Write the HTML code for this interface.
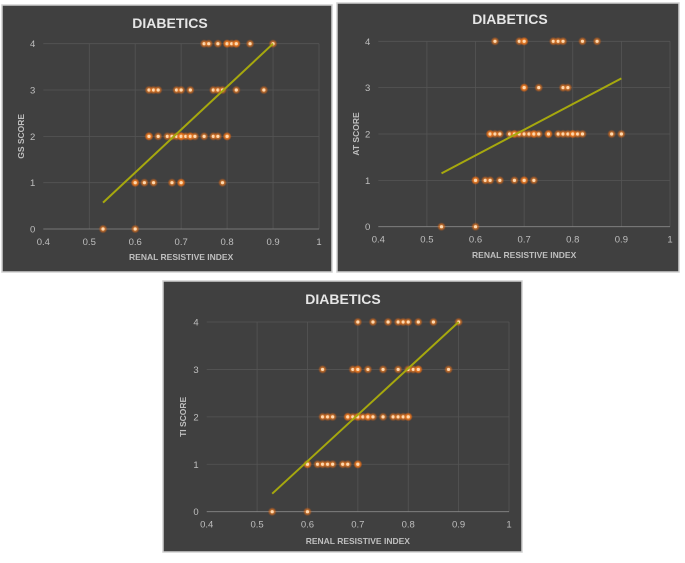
<!DOCTYPE html>
<html><head><meta charset="utf-8"><style>
html,body{margin:0;padding:0;background:#fff;width:685px;height:563px;overflow:hidden;font-family:"Liberation Sans",sans-serif}
</style></head><body>
<svg id="svg" width="685" height="563" xmlns="http://www.w3.org/2000/svg">
<defs><radialGradient id="glow"><stop offset="0" stop-color="#ff9a3c" stop-opacity="0.95"/><stop offset="0.6" stop-color="#e8741c" stop-opacity="0.6"/><stop offset="1" stop-color="#c05010" stop-opacity="0"/></radialGradient></defs>
</svg>
<script>
const xTicks=[0.4,0.5,0.6,0.7,0.8,0.9,1];
const yTicks=[0,1,2,3,4];
const gsX4=[0.75,0.76,0.78,0.80,0.80,0.81,0.82,0.82,0.85,0.90];
const gsX3=[0.63,0.64,0.65,0.69,0.70,0.72,0.77,0.78,0.79,0.82,0.88];
const gsX2=[0.63,0.63,0.65,0.67,0.68,0.69,0.70,0.70,0.70,0.71,0.72,0.72,0.73,0.75,0.77,0.78,0.80,0.80];
const gsX1=[0.60,0.60,0.62,0.64,0.68,0.70,0.70,0.79];
const gsX0=[0.53,0.60];
const gsTrend=[[0.53,0.57],[0.9,4.0]];
const atX4=[0.64,0.69,0.70,0.70,0.76,0.77,0.78,0.82,0.85];
const atX3=[0.70,0.70,0.73,0.78,0.79];
const atX2=[0.63,0.63,0.64,0.65,0.67,0.68,0.68,0.69,0.70,0.71,0.72,0.72,0.73,0.75,0.75,0.77,0.78,0.79,0.80,0.80,0.81,0.82,0.88,0.90];
const atX1=[0.60,0.60,0.62,0.63,0.65,0.68,0.70,0.70,0.72];
const atX0=[0.53,0.60];
const atTrend=[[0.53,1.15],[0.9,3.2]];
const tiX4=[0.70,0.73,0.76,0.78,0.79,0.80,0.82,0.85,0.90];
const tiX3=[0.63,0.69,0.70,0.70,0.72,0.75,0.78,0.80,0.81,0.82,0.82,0.88];
const tiX2=[0.63,0.64,0.65,0.68,0.68,0.69,0.70,0.70,0.71,0.72,0.72,0.73,0.75,0.77,0.78,0.79,0.80,0.80];
const tiX1=[0.60,0.60,0.62,0.63,0.64,0.65,0.67,0.68,0.70,0.70];
const tiX0=[0.53,0.60];
const tiTrend=[[0.53,0.38],[0.9,4.0]];

const NS="http://www.w3.org/2000/svg";
const svg=document.getElementById('svg');
function mk(tag,attrs,parent,text){const e=document.createElementNS(NS,tag);for(const k in attrs)e.setAttribute(k,attrs[k]);if(text!==undefined)e.textContent=text;parent.appendChild(e);return e;}

function chart(cfg){
  const g=mk('g',{},svg);
  
  
  const fr=mk('rect',{x:cfg.fx,y:cfg.fy,width:cfg.fw,height:cfg.fh,fill:'#404040',stroke:'#d0d0d0','stroke-width':1.5},g);
  
  
  const sx=v=>cfg.x0+(v-0.4)/0.6*(cfg.x1-cfg.x0);
  const sy=v=>cfg.y0+(v)/4*(cfg.y1-cfg.y0);
  xTicks.forEach(t=>{
    if(t>0.4){const l=mk('line',{x1:sx(t),x2:sx(t),y1:cfg.y0,y2:cfg.y1,stroke:'#555','stroke-width':0.8},g);
    
    }
    const tx=mk('text',{x:sx(t),y:cfg.y0+16,'text-anchor':'middle','font-size':9.5,fill:'#bfbfbf'},g,String(t));
    
    
  });
  yTicks.forEach(t=>{
    const l=mk('line',{x1:cfg.x0,x2:cfg.x1,y1:sy(t),y2:sy(t),stroke:t===0?'#888':'#555','stroke-width':0.8},g);
    
    
    const tx=mk('text',{x:cfg.x0-8,y:sy(t)+3.5,'text-anchor':'end','font-size':9.5,fill:'#bfbfbf'},g,String(t));
    
    
  });
  const ti=mk('text',{x:cfg.tx,y:cfg.ty,'text-anchor':'middle','font-size':14,'font-weight':'bold',fill:'#e6e6e6'},g,'DIABETICS');
  
  
  const xt=mk('text',{x:(cfg.x0+cfg.x1)/2,y:cfg.xty,'text-anchor':'middle','font-size':8.5,'font-weight':'bold',fill:'#bfbfbf'},g,'RENAL RESISTIVE INDEX');
  
  
  const yc=(cfg.y0+cfg.y1)/2;
  const yt=mk('text',{x:cfg.ytx,y:yc,'text-anchor':'middle','font-size':8.5,'font-weight':'bold',fill:'#bfbfbf',transform:`rotate(-90 ${cfg.ytx} ${yc})`},g,cfg.ytitle);
  
  
  cfg.rows.forEach((arr,yv)=>{
    arr.forEach(xv=>{
      const c=mk('circle',{cx:sx(xv),cy:sy(yv),r:4.5,fill:'url(#glow)'},g);
      
      
      const d=mk('circle',{cx:sx(xv),cy:sy(yv),r:1.6,fill:'#ffd9b0'},g);
      
      
    });
  });
  const tl=mk('line',{x1:sx(cfg.trend[0][0]),y1:sy(cfg.trend[0][1]),x2:sx(cfg.trend[1][0]),y2:sy(cfg.trend[1][1]),stroke:'#a6a80e','stroke-width':2},g);
  
  
}
chart({name:'gs-score-chart',fx:2,fy:5,fw:330,fh:267,x0:43.3,x1:319,y0:229,y1:43.7,tx:170,ty:28,xty:260,ytx:24,ytitle:'GS SCORE',rows:[gsX0,gsX1,gsX2,gsX3,gsX4],trend:gsTrend});
chart({name:'at-score-chart',fx:337,fy:3,fw:342,fh:269,x0:378.3,x1:670,y0:226.7,y1:41.3,tx:510,ty:24,xty:258,ytx:359,ytitle:'AT SCORE',rows:[atX0,atX1,atX2,atX3,atX4],trend:atTrend});
chart({name:'ti-score-chart',fx:163,fy:281,fw:359,fh:271,x0:206.7,x1:509,y0:511.7,y1:322,tx:343,ty:304,xty:544,ytx:186,ytitle:'TI SCORE',rows:[tiX0,tiX1,tiX2,tiX3,tiX4],trend:tiTrend});
</script>
</body></html>
